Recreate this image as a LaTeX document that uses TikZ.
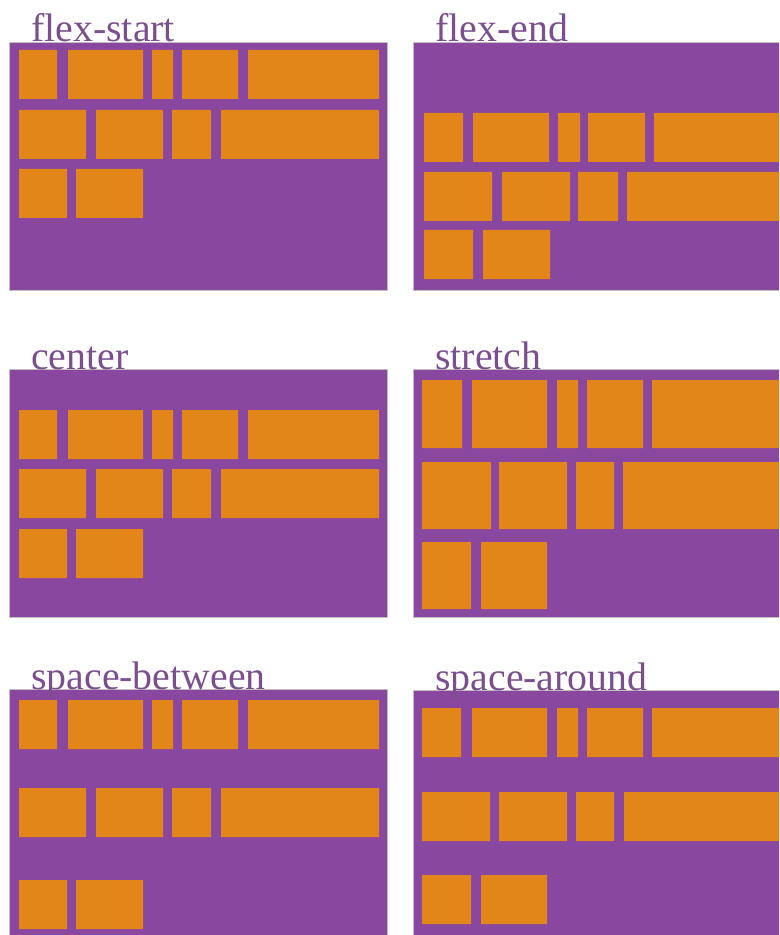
\documentclass[tikz,border=0pt]{standalone}
\usepackage{fontspec}
\setmainfont{Liberation Serif}

\definecolor{flexbg}{HTML}{8A47A0}
\definecolor{flexitem}{HTML}{E3861A}
\definecolor{flexlabel}{HTML}{7B4F8E}

\begin{document}
\begin{tikzpicture}[
    x=0.03cm, y=-0.03cm,
    % Styles
    container/.style={fill=flexbg, draw=black!25, line width=0.5pt},
    item/.style={fill=flexitem},
    panellabel/.style={
        anchor=base west, inner sep=0pt, text=flexlabel,
        font=\fontsize{34}{40}\selectfont
    },
]
\useasboundingbox (0,0) rectangle (779,935);
\clip (0,0) rectangle (779,935);

%--- Containers ---%
% left column x = 9..387, right column x = 413..791 (cut at 779)
\filldraw[container] (9,42)    rectangle (387,290);
\filldraw[container] (413,42)  rectangle (791,290);
\filldraw[container] (9,369)   rectangle (387,617);
\filldraw[container] (413,369) rectangle (791,617);
\filldraw[container] (9,689)   rectangle (387,937);
\filldraw[container] (413,690) rectangle (791,938);

%--- Labels ---%
\node[panellabel] (lblstart)   at (31,42)   {flex-start};
\node[panellabel] (lblend)     at (435,42)  {flex-end};
\node[panellabel] (lblcenter)  at (31,369)  {center};
\node[panellabel] (lblstretch) at (435,369) {stretch};
\node[panellabel] (lblbetween) at (31,689)  {space-between};
\node[panellabel] (lblaround)  at (435,690) {space-around};

%--- flex-start ---
\fill[item] (19,50) rectangle (57,99) (68,50) rectangle (143,99) (152,50) rectangle (173,99) (182,50) rectangle (238,99) (248,50) rectangle (379,99);
\fill[item] (19,110) rectangle (86,159) (96,110) rectangle (163,159) (172,110) rectangle (211,159) (221,110) rectangle (379,159);
\fill[item] (19,169) rectangle (67,218) (76,169) rectangle (143,218);

%--- flex-end ---
\fill[item] (424,113) rectangle (463,162) (473,113) rectangle (549,162) (558,113) rectangle (580,162) (588,113) rectangle (645,162) (654,113) rectangle (785,162);
\fill[item] (424,172) rectangle (492,221) (502,172) rectangle (570,221) (578,172) rectangle (618,221) (627,172) rectangle (785,221);
\fill[item] (424,230) rectangle (473,279) (483,230) rectangle (550,279);

%--- center ---
\fill[item] (19,410) rectangle (57,459) (68,410) rectangle (143,459) (152,410) rectangle (173,459) (182,410) rectangle (238,459) (248,410) rectangle (379,459);
\fill[item] (19,469) rectangle (86,518) (96,469) rectangle (163,518) (172,469) rectangle (211,518) (221,469) rectangle (379,518);
\fill[item] (19,529) rectangle (67,578) (76,529) rectangle (143,578);

%--- stretch ---
\fill[item] (422,380) rectangle (462,448) (472,380) rectangle (547,448) (557,380) rectangle (578,448) (587,380) rectangle (643,448) (652,380) rectangle (785,448);
\fill[item] (422,462) rectangle (491,529) (499,462) rectangle (567,529) (576,462) rectangle (614,529) (623,462) rectangle (785,529);
\fill[item] (422,542) rectangle (471,609) (481,542) rectangle (547,609);

%--- space-between ---
\fill[item] (19,700) rectangle (57,749) (68,700) rectangle (143,749) (152,700) rectangle (173,749) (182,700) rectangle (238,749) (248,700) rectangle (379,749);
\fill[item] (19,788) rectangle (86,837) (96,788) rectangle (163,837) (172,788) rectangle (211,837) (221,788) rectangle (379,837);
\fill[item] (19,880) rectangle (67,929) (76,880) rectangle (143,929);

%--- space-around ---
\fill[item] (422,708) rectangle (461,757) (472,708) rectangle (547,757) (557,708) rectangle (578,757) (587,708) rectangle (643,757) (652,708) rectangle (785,757);
\fill[item] (422,792) rectangle (490,841) (499,792) rectangle (567,841) (576,792) rectangle (614,841) (624,792) rectangle (785,841);
\fill[item] (422,875) rectangle (471,924) (481,875) rectangle (547,924);

\end{tikzpicture}
\end{document}
